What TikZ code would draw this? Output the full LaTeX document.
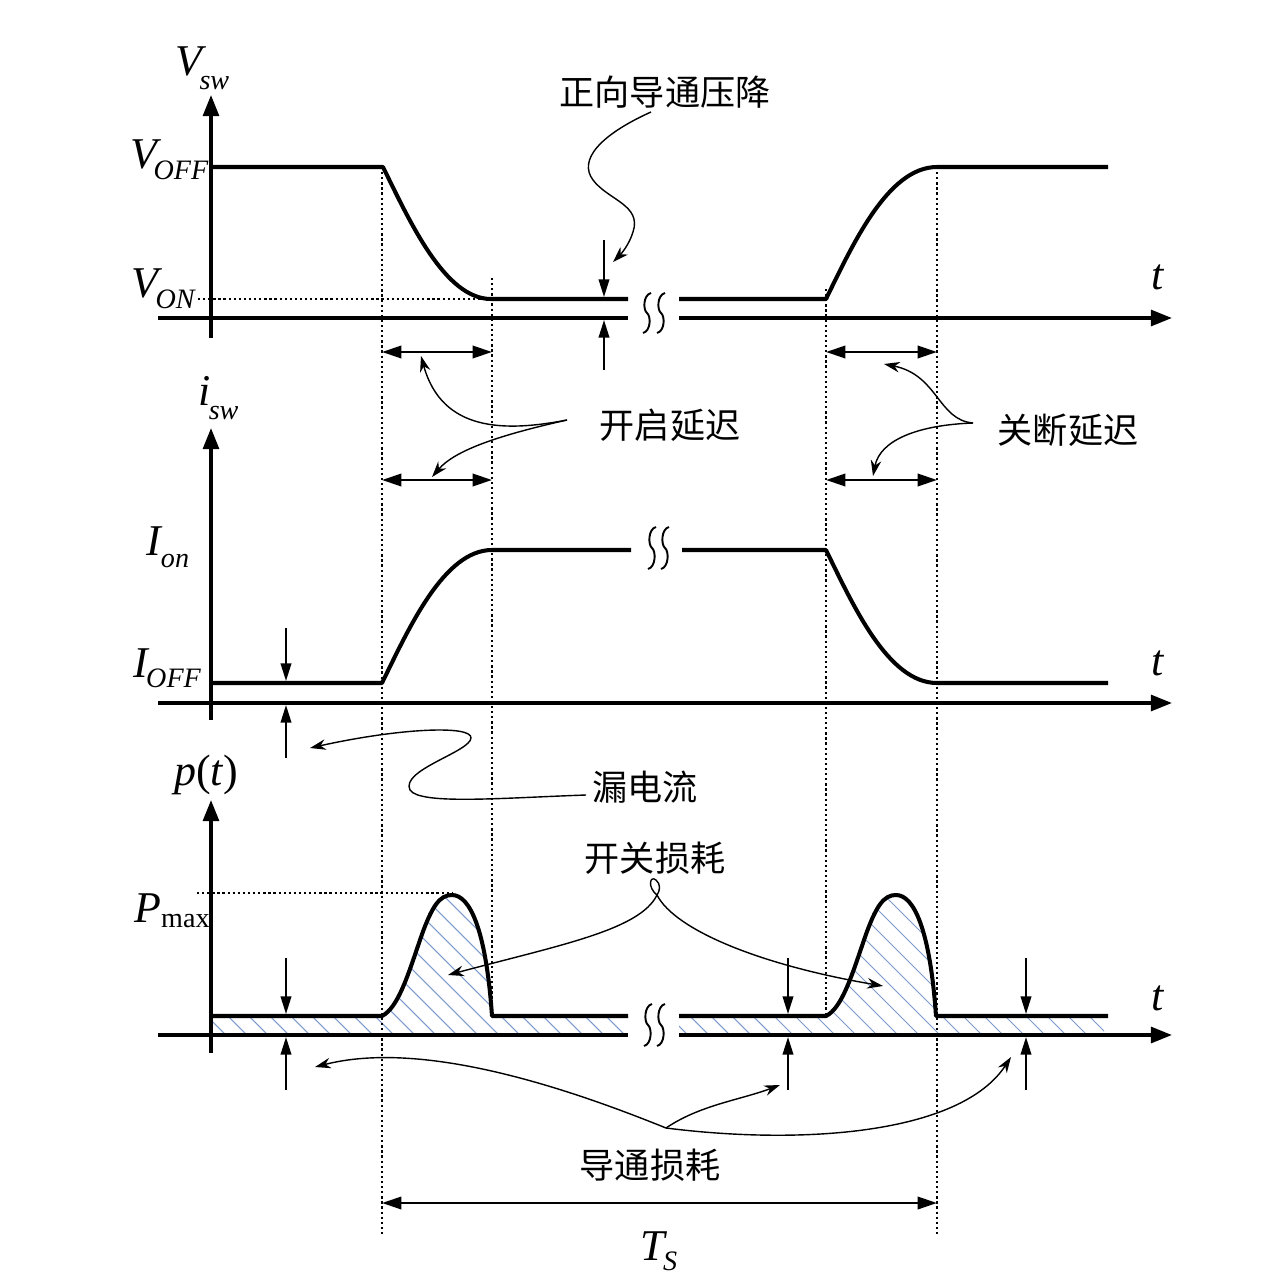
\documentclass[tikz,border=0pt]{standalone}
\usepackage{fontspec}
\setmainfont{Liberation Serif}
\newfontfamily\cjk{Noto Sans CJK SC}
\usetikzlibrary{arrows.meta}
\definecolor{hatchblue}{RGB}{125,155,205}
\newcommand\bigsym[1]{{\fontsize{25}{25}\selectfont\itshape #1}}
\newcommand\subsym[3]{\kern#1\raisebox{#2}{\fontsize{16}{16}\selectfont #3}}
\begin{document}
\begin{tikzpicture}[x=0.02cm,y=-0.02cm,
  wave/.style={line width=2.3pt,line join=round},
  axisline/.style={line width=2pt},
  axarrow/.style={line width=2pt,-{Triangle[length=12pt,width=9pt]}},
  guide/.style={line width=1.2pt,dash pattern=on 1.3pt off 1.6pt},
  dim/.style={line width=1.5pt,{Triangle[length=11pt,width=7pt]}-{Triangle[length=11pt,width=7pt]}},
  marker/.style={line width=1.1pt,-{Triangle[length=10pt,width=6pt]}},
  conn/.style={line width=0.8pt,-{Stealth[length=9pt,width=6pt]}},
  squig/.style={line width=1.1pt},
  hatch/.style={line width=0.6pt,hatchblue},
  cn/.style={font=\cjk\fontsize{20}{20}\selectfont,inner sep=0pt},
  lbl/.style={inner sep=0pt}]
\useasboundingbox (0,0) rectangle (1270,1285);
\fill[white] (0,0) rectangle (1270,1285);

% ---------- hatching of the power area ----------
\begin{scope}
\clip (211,1016) -- (382,1016)
  .. controls (398,1008) and (408,975) .. (420,940)
  .. controls (432,905) and (440,895) .. (452,895)
  .. controls (470,895) and (486,930) .. (492,1016)
  -- (628,1016) -- (628,1035) -- (211,1035) -- cycle
  (679,1016) -- (826,1016)
  .. controls (842,1008) and (852,975) .. (864,940)
  .. controls (876,905) and (884,895) .. (896,895)
  .. controls (914,895) and (930,930) .. (936,1016)
  -- (1104,1016) -- (1104,1035) -- (679,1035) -- cycle;
\foreach \i in {0,...,52}
  \draw[hatch] (40+21*\i,870) -- ++(180,180);
\end{scope}

% ---------- guide (dotted) lines ----------
\draw[guide] (382,167) -- (382,1235);
\draw[guide] (492,278) -- (492,1016);
\draw[guide] (826,289) -- (826,1016);
\draw[guide] (937,167) -- (937,1235);
\draw[guide] (198,299) -- (491,299);
\draw[guide] (197,893) -- (452,893);

% ---------- panel 1: V_sw ----------
\draw[axisline] (158,318) -- (628,318);
\draw[axarrow] (679,318) -- (1172,318);
\draw[axarrow] (211,338) -- (211,95);
\draw[wave] (211,167) -- (383,167)
  .. controls (410,222) and (445,299) .. (491,299) -- (628,299);
\draw[wave] (679,299) -- (826,299)
  .. controls (853,244) and (888,167) .. (937,167) -- (1108,167);
\foreach \x in {647,661}
  \draw[squig] (\x+4,293) .. controls (\x-4,295) and (\x-4,310) .. (\x,313)
    .. controls (\x+4,316) and (\x+4,331) .. (\x-4,333);

\node[lbl,anchor=base west] (vsw) at (175,75) {\bigsym{V}\subsym{-1.5pt}{-8pt}{\itshape sw}};
\node[lbl,anchor=base west] (voff) at (130,168) {\bigsym{V}\subsym{-2pt}{-6.8pt}{\itshape OFF}};
\node[lbl,anchor=base west] (von) at (131,297) {\bigsym{V}\subsym{-1.5pt}{-6.8pt}{\itshape ON}};
\node[lbl,anchor=base] (t1) at (1158,289) {\bigsym{t}};

% forward voltage drop markers
\coordinate (vd1) at (604,240);
\coordinate (vd1e) at (604,297);
\coordinate (vd2) at (604,370);
\coordinate (vd2e) at (604,320);
\draw[marker] (vd1) -- (vd1e);
\draw[marker] (vd2) -- (vd2e);
\node[cn] (fwd) at (665,92) {正向导通压降};
\coordinate (fwds) at (651,112);
\coordinate (fwdt) at (613,262);
\draw[conn] (fwds) .. controls (600,135) and (578,160) .. (593,180)
  .. controls (608,200) and (642,205) .. (633,232)
  .. controls (629,245) and (621,254) .. (fwdt);

% ---------- delay dimensions ----------
\draw[dim] (382,352) -- (492,352);
\draw[dim] (826,352) -- (937,352);
\draw[dim] (382,480) -- (492,480);
\draw[dim] (826,480) -- (937,480);

\node[cn] (ton) at (670,425) {开启延迟};
\coordinate (tons) at (567,420);
\draw[conn] (tons) .. controls (505,432) and (442,432) .. (421,356);
\draw[conn] (tons) .. controls (500,435) and (455,450) .. (432,477);

\node[cn] (toff) at (1068,430) {关断延迟};
\coordinate (toffs) at (973,423);
\draw[conn] (toffs) .. controls (938,420) and (938,375) .. (884,364);
\draw[conn] (toffs) .. controls (918,425) and (880,440) .. (873,476);

% ---------- panel 2: i_sw ----------
\draw[axarrow] (158,703) -- (1172,703);
\draw[axarrow] (211,720) -- (211,428);
\draw[wave] (211,683) -- (382,683)
  .. controls (409,628) and (444,550) .. (492,550) -- (631,550);
\draw[wave] (682,550) -- (826,550)
  .. controls (853,605) and (888,683) .. (937,683) -- (1108,683);
\foreach \x in {652,665}
  \draw[squig] (\x+4,527) .. controls (\x-4,529) and (\x-4,545) .. (\x,548)
    .. controls (\x+4,551) and (\x+4,567) .. (\x-4,569);

\node[lbl,anchor=base west] (isw) at (198,405) {\bigsym{i}\subsym{-1pt}{-8pt}{\itshape sw}};
\node[lbl,anchor=base west] (ion) at (146,555) {\bigsym{I}\subsym{0pt}{-7pt}{\itshape on}};
\node[lbl,anchor=base west] (ioff) at (133,677) {\bigsym{I}\subsym{-1pt}{-6pt}{\itshape OFF}};
\node[lbl,anchor=base] (t2) at (1158,675) {\bigsym{t}};

\coordinate (lk1) at (286,628);
\coordinate (lk1e) at (286,681);
\coordinate (lk2) at (286,758);
\coordinate (lk2e) at (286,705);
\draw[marker] (lk1) -- (lk1e);
\draw[marker] (lk2) -- (lk2e);

\node[cn] (leak) at (645,787) {漏电流};
\coordinate (leaks) at (586,795);
\coordinate (leakt) at (310,748);
\draw[conn] (leaks) .. controls (500,798) and (420,805) .. (410,790)
  .. controls (400,770) and (470,752) .. (471,738)
  .. controls (472,725) and (400,728) .. (leakt);

% ---------- panel 3: p(t) ----------
\draw[axisline] (158,1035) -- (628,1035);
\draw[axarrow] (679,1035) -- (1172,1035);
\draw[axarrow] (211,1053) -- (211,800);
\draw[wave] (211,1016) -- (382,1016)
  .. controls (398,1008) and (408,975) .. (420,940)
  .. controls (432,905) and (440,895) .. (452,895)
  .. controls (470,895) and (486,930) .. (492,1016) -- (628,1016);
\draw[wave] (679,1016) -- (826,1016)
  .. controls (842,1008) and (852,975) .. (864,940)
  .. controls (876,905) and (884,895) .. (896,895)
  .. controls (914,895) and (930,930) .. (936,1016) -- (1108,1016);
\foreach \x in {648,661}
  \draw[squig] (\x+4,1004) .. controls (\x-4,1006) and (\x-4,1022) .. (\x,1025)
    .. controls (\x+4,1028) and (\x+4,1044) .. (\x-4,1046);

\node[lbl,anchor=base west] (pt) at (174,785) {\bigsym{p}{\fontsize{25}{25}\selectfont(}\bigsym{t}{\fontsize{25}{25}\selectfont)}};
\node[lbl,anchor=base west] (pmax) at (134,922) {\bigsym{P}\subsym{0pt}{-3.4pt}{max}};
\node[lbl,anchor=base] (t3) at (1158,1010) {\bigsym{t}};

\foreach \x/\n in {286/a,788/b,1026/c}{
  \coordinate (cd\n1) at (\x,958);
  \coordinate (cd\n1e) at (\x,1014);
  \coordinate (cd\n2) at (\x,1090);
  \coordinate (cd\n2e) at (\x,1037);
  \draw[marker] (cd\n1) -- (cd\n1e);
  \draw[marker] (cd\n2) -- (cd\n2e);
}

\node[cn] (swl) at (655,858) {开关损耗};
\coordinate (swls) at (657,895);
\draw[line width=0.8pt] (swls) .. controls (647,887) and (650,875) .. (656,880)
  .. controls (661,884) and (660,891) .. (swls);
\draw[conn] (swls) .. controls (640,930) and (560,945) .. (448,975);
\draw[conn] (swls) .. controls (675,930) and (760,965) .. (883,986);

\node[cn] (cdl) at (650,1165) {导通损耗};
\coordinate (cdls) at (666,1128);
\draw[conn] (cdls) .. controls (560,1085) and (420,1040) .. (315,1067);
\draw[conn] (cdls) .. controls (700,1105) and (740,1100) .. (780,1085);
\draw[conn] (cdls) .. controls (800,1145) and (960,1135) .. (1011,1057);

% ---------- period ----------
\draw[dim] (382,1203) -- (937,1203);
\node[lbl,anchor=base west] (ts) at (640,1260) {\bigsym{T}\subsym{-1pt}{-6pt}{\itshape S}};
\end{tikzpicture}
\end{document}
